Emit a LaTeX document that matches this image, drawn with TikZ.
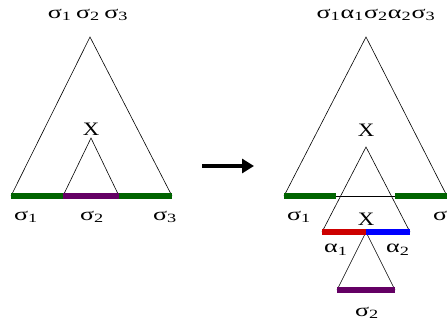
\documentclass[tikz,border=0pt]{standalone}
\usepackage{fontspec}
\setmainfont{Liberation Serif}
\usetikzlibrary{arrows.meta}
\definecolor{dgreen}{RGB}{0,100,0}
\definecolor{dpurple}{RGB}{100,0,100}
\definecolor{dred}{RGB}{205,0,0}
\definecolor{dblue}{RGB}{0,0,255}
\newcommand\gk[1]{\scalebox{1.45}[1]{#1}}
\newcommand\xk[1]{\scalebox{1.2}[1]{#1}}
\tikzset{
  tri/.style={draw=black, line width=0.6pt},
  segbar/.style={line width=6pt},
  lab/.style={inner sep=0pt, font=\fontsize{18}{20}\selectfont},
  xlab/.style={inner sep=0pt, font=\fontsize{19}{21}\selectfont},
  bigarrow/.style={line width=4pt, -{Triangle[length=12pt,width=14pt]}}
}
\begin{document}
\begin{tikzpicture}[x=1pt,y=-1pt]
\useasboundingbox (0,0) rectangle (447,324);
% ---------- left tree ----------
\coordinate (LA) at (90,37);
\coordinate (LB1) at (11,196);
\coordinate (LB2) at (172,196);
\coordinate (LX) at (91,138);
\coordinate (LS1) at (63,196);
\coordinate (LS2) at (119,196);
\draw[tri] (LB1) -- (LA) -- (LB2);
\draw[tri] (LS1) -- (LX) -- (LS2);
\draw[segbar, dgreen] (LB1) -- (LS1);
\draw[segbar, dpurple] (LS1) -- (LS2);
\draw[segbar, dgreen] (LS2) -- (LB2);
\node[lab] (ltop) at (88,15) {\gk{σ\textsubscript{1}\,σ\textsubscript{2}\,σ\textsubscript{3}}};
\node[xlab] (lx) at (91,129) {\xk{X}};
\node[lab] (ls1) at (26,217) {\gk{σ\textsubscript{1}}};
\node[lab] (ls2) at (92,217) {\gk{σ\textsubscript{2}}};
\node[lab] (ls3) at (165,217) {\gk{σ\textsubscript{3}}};
% ---------- arrow ----------
\coordinate (ArA) at (202,166);
\coordinate (ArB) at (254,166);
\draw[bigarrow] (ArA) -- (ArB);
% ---------- right tree ----------
\coordinate (RA) at (366,37);
\coordinate (RB1) at (284,196);
\coordinate (RB2) at (447,196);
\coordinate (RG1) at (336,196);
\coordinate (RG2) at (395,196);
\coordinate (RM) at (366,147);
\coordinate (RM1) at (322,232);
\coordinate (RM2) at (410,232);
\coordinate (RMc) at (366,232);
\coordinate (RP1) at (337,290);
\coordinate (RP2) at (395,290);
\draw[tri] (RB1) -- (RA) -- (RB2);
\draw[tri] (RG1) -- (RG2);
\draw[tri] (RM1) -- (RM) -- (RM2);
\draw[tri] (RP1) -- (RMc) -- (RP2);
\draw[segbar, dgreen] (RB1) -- (RG1);
\draw[segbar, dgreen] (RG2) -- (RB2);
\draw[segbar, dred] (RM1) -- (RMc);
\draw[segbar, dblue] (RMc) -- (RM2);
\draw[segbar, dpurple] (RP1) -- (RP2);
\node[lab] (rtop) at (376,15) {\gk{σ\textsubscript{1}α\textsubscript{1}σ\textsubscript{2}α\textsubscript{2}σ\textsubscript{3}}};
\node[xlab] (rx1) at (366,130) {\xk{X}};
\node[xlab] (rx2) at (366,219) {\xk{X}};
\node[lab] (rs1) at (299,217) {\gk{σ\textsubscript{1}}};
\node[lab] (rs3) at (445,217) {\gk{σ\textsubscript{3}}};
\node[lab] (ra1) at (336,250) {\gk{α\textsubscript{1}}};
\node[lab] (ra2) at (398,250) {\gk{α\textsubscript{2}}};
\node[lab] (rs2) at (367,313) {\gk{σ\textsubscript{2}}};
\end{tikzpicture}
\end{document}
